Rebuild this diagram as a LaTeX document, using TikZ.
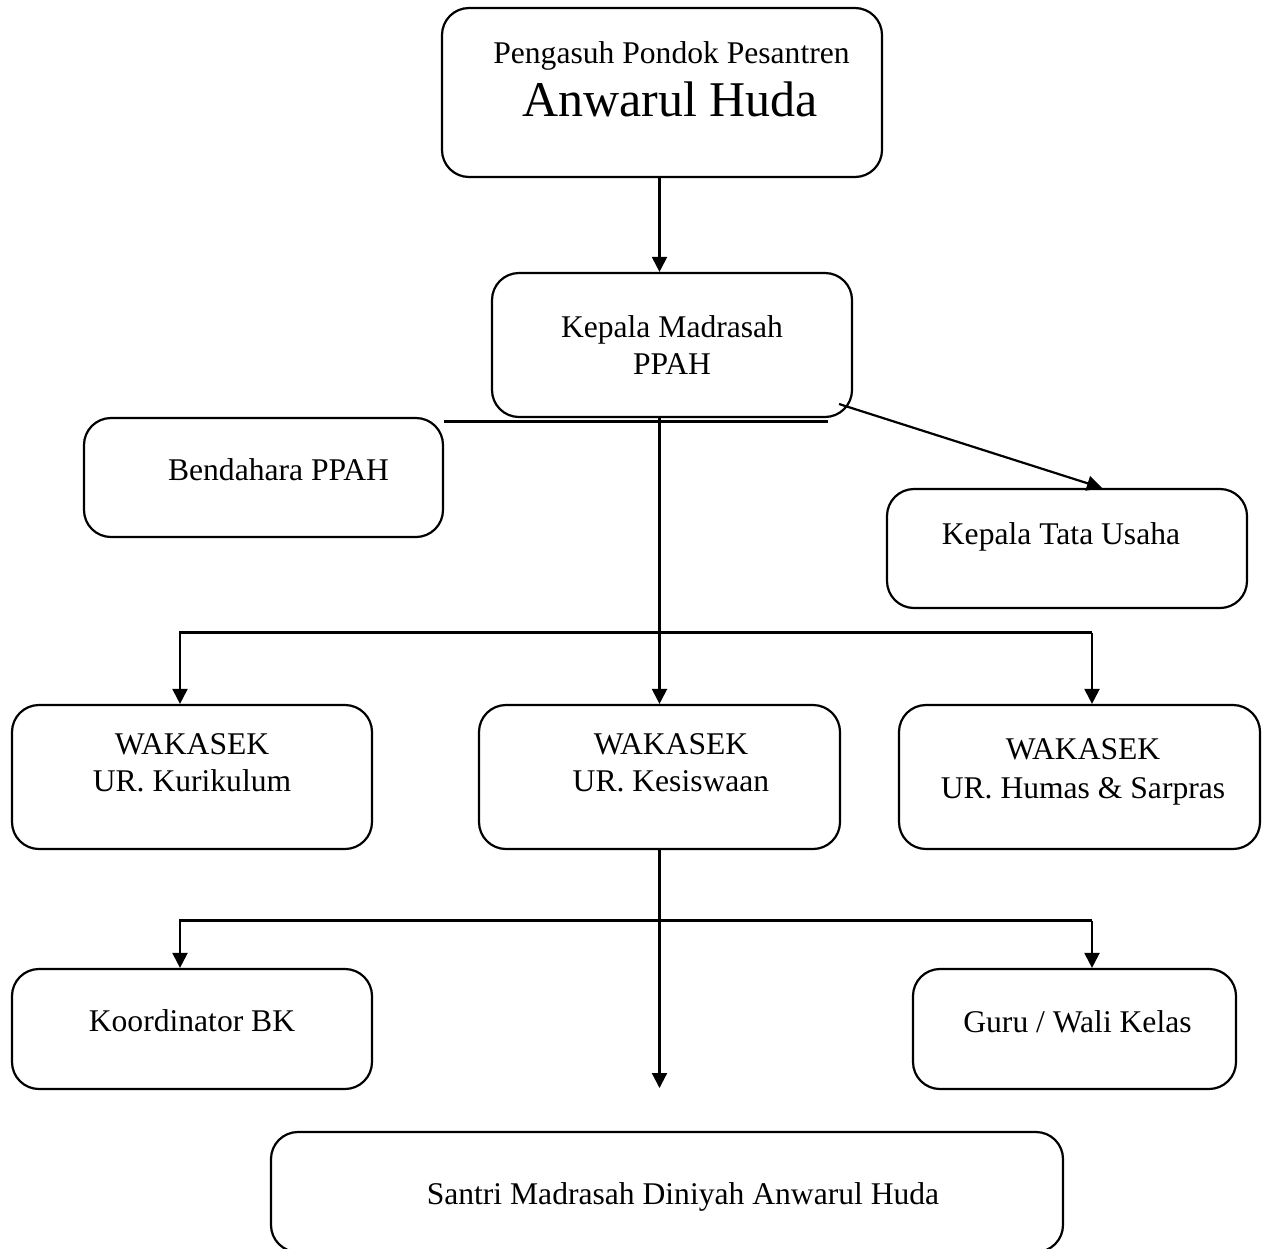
\documentclass[tikz,border=0pt]{standalone}
\usepackage{fontspec}
\setmainfont{Liberation Serif}
\usetikzlibrary{arrows.meta}
\begin{document}
\begin{tikzpicture}[x=1pt,y=-1pt,
  box/.style={draw, line width=2.2pt, rounded corners=27pt, inner sep=0pt,
    font=\fontsize{31.6}{37}\selectfont, align=center},
  txt/.style={font=\fontsize{31.6}{37}\selectfont, align=center, inner sep=0pt},
  bigtxt/.style={font=\fontsize{50}{56}\selectfont, inner sep=0pt},
  conn/.style={line width=2.2pt, -{Triangle[width=15pt,length=15pt]}},
  plain/.style={line width=2.2pt}]
\fill[white] (0,0) rectangle (1264,1248);
\useasboundingbox (0,0) rectangle (1264,1248);

% boxes
\node[box, minimum width=440pt, minimum height=169pt,
  label={[txt, name=toptxt1, xshift=9.5pt, yshift=36.9pt]center:Pengasuh Pondok Pesantren},
  label={[bigtxt, name=toptxt2, xshift=8pt, yshift=-7pt]center:Anwarul Huda}]
  (top) at (662,92.5) {};
\node[box, minimum width=360pt, minimum height=144pt] (kep) at (672,345) {Kepala Madrasah\\PPAH};
\node[box, minimum width=359pt, minimum height=119pt,
  label={[txt, name=bendtxt, xshift=15pt, yshift=8pt]center:Bendahara PPAH}]
  (bend) at (263.5,477.5) {};
\node[box, minimum width=360pt, minimum height=119pt,
  label={[txt, name=tutxt, xshift=-6pt, yshift=11.4pt]center:Kepala Tata Usaha}]
  (tu) at (1067,548.5) {};
\node[box, minimum width=360pt, minimum height=144pt,
  label={[txt, name=wak1txt, yshift=14pt]center:WAKASEK\\UR. Kurikulum}]
  (wak1) at (192,777) {};
\node[box, minimum width=361pt, minimum height=144pt,
  label={[txt, name=wak2txt, xshift=11.5pt, yshift=14pt]center:WAKASEK\\UR. Kesiswaan}]
  (wak2) at (659.5,777) {};
\node[box, minimum width=361pt, minimum height=144pt,
  label={[txt, name=wak3txt, xshift=3.5pt, yshift=5.5pt]center:WAKASEK\\[2pt]UR. Humas \& Sarpras}]
  (wak3) at (1079.5,777) {};
\node[box, minimum width=360pt, minimum height=120pt,
  label={[txt, name=bktxt, yshift=8pt]center:Koordinator BK}]
  (bk) at (192,1029) {};
\node[box, minimum width=323pt, minimum height=120pt,
  label={[txt, name=gurutxt, xshift=3pt, yshift=7.6pt]center:Guru / Wali Kelas}]
  (guru) at (1074.5,1029) {};
\node[box, minimum width=792pt, minimum height=120pt,
  label={[txt, name=santritxt, xshift=16pt, yshift=-5pt]center:Santri Madrasah Diniyah Anwarul Huda}]
  (santri) at (667,1192) {};

% helper coordinates
\coordinate (mx) at (659.5,0);
\coordinate (b1l) at (180,632.5);
\coordinate (b1r) at (1092,632.5);
\coordinate (b2l) at (180,920.5);
\coordinate (b2r) at (1092,920.5);
\coordinate (stip) at (659.5,1088);
\coordinate (kl) at (828,421.5);
\coordinate (ks) at (839,404);

% connectors
\draw[conn] (top.south -| mx) -- (kep.north -| mx);
\draw[plain] (bend.east |- kl) -- (kl);
\draw[conn] (ks) -- ([xshift=35pt]tu.north);
\draw[conn] (kep.south -| mx) -- (wak2.north -| mx);
\draw[conn] (b1r) -- (b1l) -- (wak1.north -| b1l);
\draw[conn] (b1r) -- (wak3.north -| b1r);
\draw[conn] (wak2.south -| mx) -- (stip);
\draw[conn] (b2r) -- (b2l) -- (bk.north -| b2l);
\draw[conn] (b2r) -- (guru.north -| b2r);
\end{tikzpicture}
\end{document}
